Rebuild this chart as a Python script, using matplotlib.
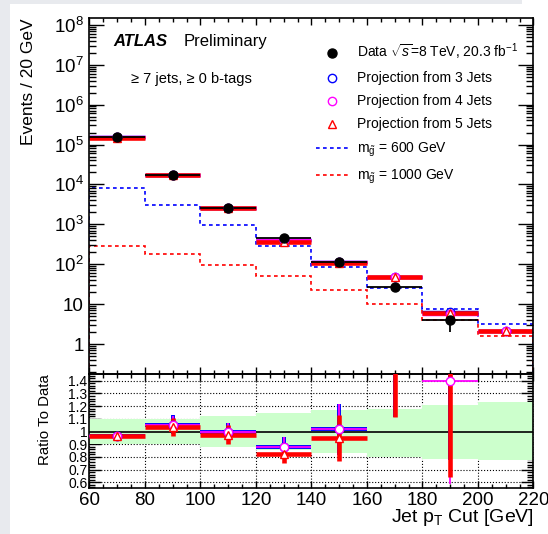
import numpy as np
import matplotlib.pyplot as plt
from matplotlib.lines import Line2D
from matplotlib.patches import Rectangle
from matplotlib.ticker import MultipleLocator, LogLocator, FuncFormatter, NullFormatter, FormatStrFormatter

plt.rcParams['font.family'] = ['Liberation Sans', 'DejaVu Sans']
plt.rcParams['mathtext.fontset'] = 'custom'
plt.rcParams['mathtext.rm'] = 'Liberation Sans'
plt.rcParams['mathtext.it'] = 'Liberation Sans:italic'
plt.rcParams['mathtext.bf'] = 'Liberation Sans:bold'

# jet pT cut bins [GeV]
edges = [60, 80, 100, 120, 140, 160, 180, 200, 220]
data = [1.55e5, 1.68e4, 2.56e3, 450, 114, 27, 4.0, np.nan]
data_err = [390, 130, 51, 21, 11, 5.2, 2.0, np.nan]
proj3 = [1.50e5, 1.77e4, 2.56e3, 395, 116, 48, 6.3, 2.1]
proj4 = [1.50e5, 1.76e4, 2.56e3, 395, 116, 48, 5.58, 2.1]
proj5 = [1.49e5, 1.74e4, 2.50e3, 370, 108, 48, 6.05, 2.1]
ratio_err3 = [0.01, 0.074, 0.07, 0.08, 0.2, 0.66, 0.8, np.nan]
ratio_err4 = [0.01, 0.074, 0.07, 0.08, 0.2, 0.66, 0.81, np.nan]
ratio_err5 = [0.01, 0.073, 0.072, 0.072, 0.179, 0.66, 0.87, np.nan]
sig600 = [8.1e3, 3.1e3, 980, 282, 83, 24.7, 7.4, 3.2]
sig1000 = [287, 178, 98, 50, 23, 10, 4.0, 1.6]
band_lo = [0.90, 0.90, 0.875, 0.855, 0.83, 0.80, 0.785, 0.772]
band_hi = [1.10, 1.10, 1.122, 1.146, 1.167, 1.18, 1.21, 1.233]

edges_a = np.array(edges, dtype=float)
centers = 0.5 * (edges_a[:-1] + edges_a[1:])
halfw = 0.5 * np.diff(edges_a)
data_a = np.array(data)
r3 = np.array(proj3) / data_a
r4 = np.array(proj4) / data_a
r5 = np.array(proj5) / data_a

fig = plt.figure(figsize=(5.48, 5.34), dpi=100, facecolor='#e8eaee')
fig.patches.append(Rectangle((10 / 548, 0), 1, 530 / 534, transform=fig.transFigure,
                             facecolor='white', edgecolor='none', zorder=-10))
fig.patches.append(Rectangle((522 / 548, 0), 1, 1, transform=fig.transFigure,
                             facecolor='white', edgecolor='none', zorder=-10))

ax = fig.add_axes([0.1633, 0.2996, 0.8102, 0.6667])
ax2 = fig.add_axes([0.1633, 0.0861, 0.8102, 0.2135], sharex=ax)
ax.patch.set_alpha(0)
ax2.patch.set_alpha(0)

dash = (0, (2.2, 2.0))
ax.stairs(sig600, edges, color='blue', ls=dash, lw=1.2)
ax.stairs(sig1000, edges, color='red', ls=dash, lw=1.2)
ax.errorbar(centers, proj3, xerr=halfw, fmt='o', ms=6, mfc='white', mec='blue',
            ecolor='blue', elinewidth=2.5, capsize=0)
ax.errorbar(centers, proj4, xerr=halfw, fmt='o', ms=6, mfc='white', mec='magenta',
            ecolor='magenta', elinewidth=2.5, capsize=0)
ax.errorbar(centers, proj5, xerr=halfw, fmt='^', ms=6, mfc='white', mec='red',
            ecolor='red', elinewidth=3.3, capsize=0)
ax.errorbar(centers, data, xerr=halfw, yerr=data_err, fmt='o', ms=6.5, color='black',
            elinewidth=1.3, capsize=0)

ax.set_yscale('log')
ax.set_xlim(60, 220)
ax.set_ylim(10 ** -0.75, 10 ** 8.17)
ax.xaxis.set_major_locator(MultipleLocator(20))
ax.xaxis.set_minor_locator(MultipleLocator(5))
ax.yaxis.set_major_locator(LogLocator(base=10, numticks=20))
ax.yaxis.set_minor_locator(LogLocator(base=10, subs=np.arange(2, 10), numticks=20))
ax.yaxis.set_minor_formatter(NullFormatter())


def logfmt(v, pos):
    e = int(round(np.log10(v)))
    if e == 0:
        return '1'
    if e == 1:
        return '10'
    return r'$10^{%d}$' % e


ax.yaxis.set_major_formatter(FuncFormatter(logfmt))
ax.tick_params(which='both', direction='in', top=True, right=True, width=1)
ax.tick_params(axis='y', which='major', length=11, labelsize=13.5, pad=4)
ax.tick_params(axis='y', which='minor', length=5)
ax.tick_params(axis='x', which='major', length=5, labelbottom=False)
ax.tick_params(axis='x', which='minor', length=3)
for s in ax.spines.values():
    s.set_linewidth(1.2)

ax.set_ylabel('Events / 20 GeV', fontsize=12.5, loc='top')
ax.yaxis.set_label_coords(-0.12, 1.0)

ax.text(0.053, 0.935, 'ATLAS', transform=ax.transAxes, fontsize=12, fontweight='bold',
        fontstyle='italic', va='center', ha='left')
ax.text(0.213, 0.935, 'Preliminary', transform=ax.transAxes, fontsize=12,
        va='center', ha='left')
ax.text(0.0935, 0.8287, '≥ 7 jets, ≥ 0 b-tags', transform=ax.transAxes,
        fontsize=10.5, va='center', ha='left')

handles = [
    Line2D([], [], ls='none', marker='o', ms=6.5, color='black'),
    Line2D([], [], ls='none', marker='o', ms=6, mfc='white', mec='blue'),
    Line2D([], [], ls='none', marker='o', ms=6, mfc='white', mec='magenta'),
    Line2D([], [], ls='none', marker='^', ms=6, mfc='white', mec='red'),
    Line2D([], [], color='blue', ls=dash, lw=1.2),
    Line2D([], [], color='red', ls=dash, lw=1.2),
]
labels = [
    r'Data $\sqrt{s}$=8 TeV, 20.3 fb$^{-1}$',
    'Projection from 3 Jets',
    'Projection from 4 Jets',
    'Projection from 5 Jets',
    r'm$_{\tilde{\mathrm{g}}}$ = 600 GeV',
    r'm$_{\tilde{\mathrm{g}}}$ = 1000 GeV',
]
ax.legend(handles, labels, loc='upper left', bbox_to_anchor=(0.510, 0.9326),
          frameon=False, fontsize=10, borderpad=0, borderaxespad=0,
          handlelength=2.37, handletextpad=0.58, labelspacing=0.65)

# ratio panel
ax2.set_axisbelow(True)
ax2.grid(True, which='major', ls=':', color='black', lw=0.8)
ax2.bar(centers, np.array(band_hi) - np.array(band_lo), bottom=band_lo, width=2 * halfw,
        color='#ccffcc', lw=0, zorder=1)
ax2.axhline(1.0, color='black', lw=1.2, zorder=2)
ax2.errorbar(centers, r3, xerr=halfw, yerr=ratio_err3, fmt='o', ms=6, mfc='white',
             mec='blue', ecolor='blue', elinewidth=2.8, capsize=0, zorder=3)
ax2.errorbar(centers, r4, xerr=halfw, yerr=ratio_err4, fmt='o', ms=6, mfc='white',
             mec='magenta', ecolor='magenta', elinewidth=1.3, capsize=0, zorder=3)
ax2.errorbar(centers, r5, xerr=halfw, yerr=ratio_err5, fmt='^', ms=6, mfc='white',
             mec='red', ecolor='red', elinewidth=3.3, capsize=0, zorder=3)

ax2.set_ylim(0.555, 1.453)
ax2.yaxis.set_major_locator(MultipleLocator(0.1))
ax2.yaxis.set_minor_locator(MultipleLocator(0.02))
ax2.yaxis.set_major_formatter(FormatStrFormatter('%g'))
ax2.tick_params(which='both', direction='in', top=True, right=True, width=1)
ax2.tick_params(axis='y', which='major', length=8.5, labelsize=10, pad=1.5)
ax2.tick_params(axis='y', which='minor', length=4.5)
ax2.tick_params(axis='x', which='major', length=5, labelsize=13.5, pad=3)
ax2.tick_params(axis='x', which='minor', length=3)
for s in ax2.spines.values():
    s.set_linewidth(1.2)

ax2.set_ylabel('Ratio To Data', fontsize=10.8, loc='top')
ax2.yaxis.set_label_coords(-0.0845, 1.0)
ax2.set_xlabel(r'Jet p$_\mathrm{T}$ Cut [GeV]', fontsize=14, loc='right')
ax2.xaxis.set_label_coords(1.0, -0.17)

fig.savefig('out.png', dpi=100, facecolor=fig.get_facecolor())
